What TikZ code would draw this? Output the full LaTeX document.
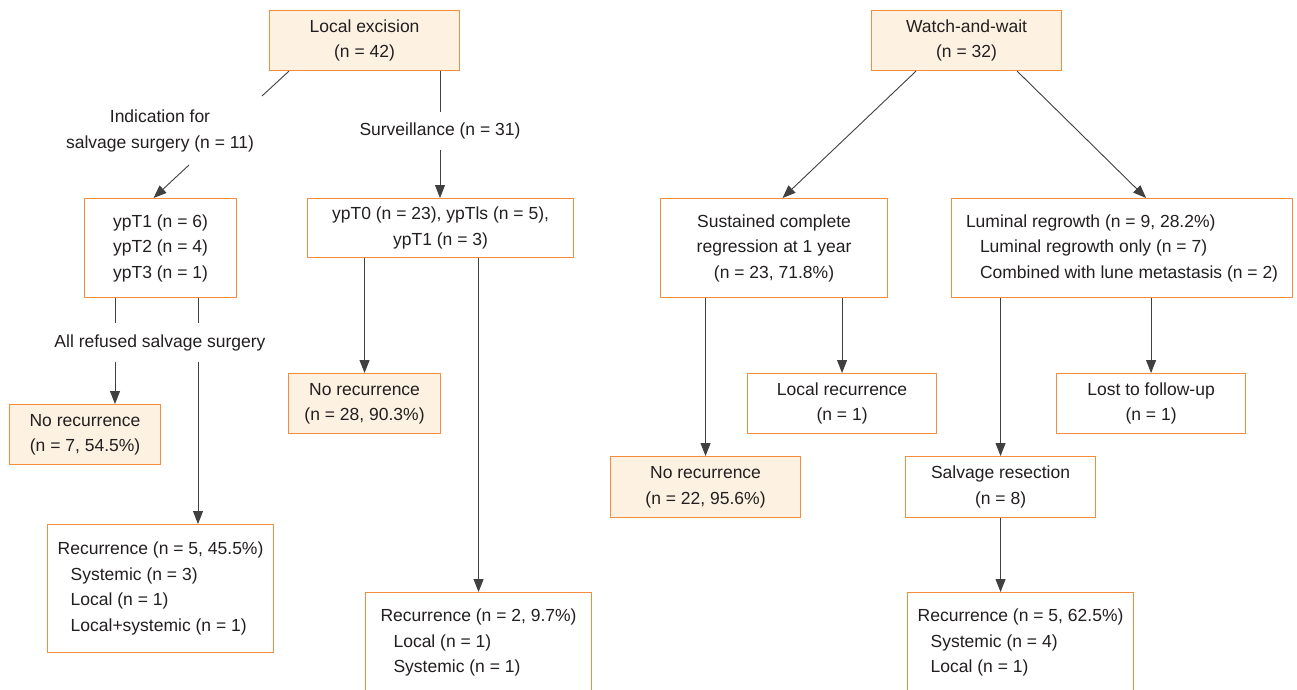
\documentclass[tikz,border=0pt]{standalone}
\usepackage{fontspec}
\setmainfont{Liberation Sans}
\usetikzlibrary{arrows.meta,positioning,calc}
\definecolor{boxorange}{RGB}{244,140,62}
\definecolor{boxcream}{RGB}{253,242,226}
\definecolor{inkgray}{RGB}{35,31,32}

\begin{document}
\begin{tikzpicture}[x=1pt,y=-1pt,font=\fontsize{17.5}{25.5}\selectfont,text=inkgray,
   bx/.style={draw=boxorange,line width=1.1pt,fill=white,inner sep=0pt,
              anchor=north west,align=center},
   cr/.style={bx,fill=boxcream},
   lst/.style={bx,align=left},
   lbl/.style={inner xsep=2pt,inner ysep=10.5pt,text height=13pt,text depth=4pt},
   ln/.style={draw=black!75,line width=0.9pt},
   arr/.style={ln,-{Triangle[length=13pt,width=10pt]}}]
  \fill[white] (0,0) rectangle (1297,689);
  \useasboundingbox (0,0) rectangle (1297,689);

  % local excision branch
  \node[cr,minimum width=190pt,minimum height=60pt] (le) at (269,10) {Local excision\\(n = 42)};
  \node[align=center] (indic) at (160,131) {Indication for\\salvage surgery (n = 11)};
  \node[lbl] (surv) at (440,131) {Surveillance (n = 31)};
  \node[bx,minimum width=152pt,minimum height=99pt] (ypa) at (84,198)
       {ypT1 (n = 6)\\ypT2 (n = 4)\\ypT3 (n = 1)};
  \node[bx,minimum width=266pt,minimum height=59pt] (ypb) at (307,198)
       {ypT0 (n = 23), ypTls (n = 5),\\ypT1 (n = 3)};
  \node[lbl] (refused) at (160,342.5) {All refused salvage surgery};
  \node[cr,minimum width=151pt,minimum height=60pt] (norecA) at (9,404) {No recurrence\\(n = 7, 54.5\%)};
  \node[lst,minimum width=226pt,minimum height=128pt] (recA) at (47,524)
       {Recurrence (n = 5, 45.5\%)\\\hspace*{13pt}Systemic (n = 3)\\\hspace*{13pt}Local (n = 1)\\\hspace*{13pt}Local+systemic (n = 1)};
  \node[cr,minimum width=152pt,minimum height=60pt] (norecB) at (288,373) {No recurrence\\(n = 28, 90.3\%)};
  \node[lst,minimum width=226pt,minimum height=122pt] (recB) at (365,592)
       {Recurrence (n = 2, 9.7\%)\\\hspace*{13pt}Local (n = 1)\\\hspace*{13pt}Systemic (n = 1)\\\mbox{}};

  % watch-and-wait branch
  \node[cr,minimum width=190pt,minimum height=60pt] (ww) at (871,10) {Watch-and-wait\\(n = 32)};
  \node[bx,minimum width=227pt,minimum height=99pt] (scr) at (660,198)
       {Sustained complete\\regression at 1 year\\(n = 23, 71.8\%)};
  \node[lst,minimum width=341pt,minimum height=99pt] (lum) at (951,198)
       {Luminal regrowth (n = 9, 28.2\%)\\\hspace*{14pt}Luminal regrowth only (n = 7)\\\hspace*{14pt}Combined with lune metastasis (n = 2)};
  \node[bx,minimum width=189pt,minimum height=60pt] (locrec) at (747,373) {Local recurrence\\(n = 1)};
  \node[bx,minimum width=189pt,minimum height=60pt] (lost) at (1056,373) {Lost to follow-up\\(n = 1)};
  \node[cr,minimum width=190pt,minimum height=61pt] (norecC) at (610,456) {No recurrence\\(n = 22, 95.6\%)};
  \node[bx,minimum width=190pt,minimum height=61pt] (salv) at (905,456) {Salvage resection\\(n = 8)};
  \node[lst,minimum width=226pt,minimum height=122pt] (recC) at (907,592)
       {Recurrence (n = 5, 62.5\%)\\\hspace*{13pt}Systemic (n = 4)\\\hspace*{13pt}Local (n = 1)\\\mbox{}};

  \coordinate (indA) at (262,96);
  \coordinate (indB) at (189,165);
  \coordinate (ra) at ([xshift=31pt]ypa.south west);
  \coordinate (rb) at ([xshift=114pt]ypa.south west);

  \draw[ln] ([xshift=20pt]le.south west) -- (indA);
  \draw[arr] (indB) -- ([xshift=-7pt]ypa.north);
  \draw[ln] (le.south -| surv) -- (surv.north);
  \draw[arr] (surv.south) -- (surv.south |- ypb.north);
  \draw[ln] (ra) -- (ra |- refused.north);
  \draw[ln] (rb) -- (rb |- refused.north);
  \draw[arr] (ra |- refused.south) -- (ra |- norecA.north);
  \draw[arr] (rb |- refused.south) -- (rb |- recA.north);
  \draw[arr] (ypb.south -| norecB.north) -- (norecB.north);
  \draw[arr] (ypb.south -| recB.north) -- (recB.north);

  \draw[arr] ([xshift=45pt]ww.south west) -- ([xshift=8.5pt]scr.north);
  \draw[arr] ([xshift=-45pt]ww.south east) -- ([xshift=24pt]lum.north);
  \draw[arr] (scr.south -| norecC.north) -- (norecC.north);
  \draw[arr] (scr.south -| locrec.north) -- (locrec.north);
  \draw[arr] (lum.south -| salv.north) -- (salv.north);
  \draw[arr] (lum.south -| lost.north) -- (lost.north);
  \draw[arr] (salv.south) -- (salv.south |- recC.north);
\end{tikzpicture}
\end{document}
